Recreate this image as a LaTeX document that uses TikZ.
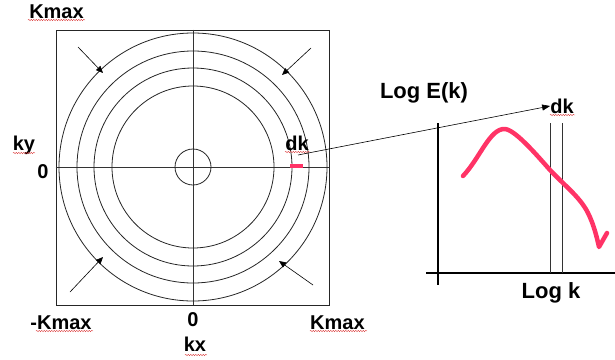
\documentclass[tikz,border=0pt]{standalone}
\usepackage{fontspec}
\setmainfont{Liberation Sans}
\usetikzlibrary{arrows.meta,decorations.pathmorphing}
\definecolor{pinkred}{RGB}{255,51,102}
\definecolor{squig}{RGB}{220,60,60}
\tikzset{
  lbl/.style={inner sep=0pt,font=\fontsize{20}{22}\selectfont\bfseries},
  biglbl/.style={inner sep=0pt,font=\fontsize{22}{24}\selectfont\bfseries},
  thin line/.style={draw=black!80,line width=0.7pt},
  ring/.style={draw=black!85,line width=0.8pt},
  inarrow/.style={draw=black,line width=0.6pt,-{Triangle[length=7pt,width=6pt]}},
  axis/.style={draw=black,line width=2.4pt},
  squiggle/.style={draw=squig,line width=0.4pt,decorate,decoration={snake,amplitude=0.7pt,segment length=2.5pt}},
  curve/.style={draw=pinkred,line width=4.5pt,line cap=round,line join=round}
}
\begin{document}
\begin{tikzpicture}[x=1pt,y=-1pt]
\useasboundingbox (0,0) rectangle (615,359);
% left panel
\node[draw=black!85,line width=0.8pt,minimum width=273pt,minimum height=275pt,inner sep=0pt] (sq) at (192.5,167.5) {};
\coordinate (c) at (193,167);
\draw[thin line] (sq.west |- c) -- (sq.east |- c);
\draw[thin line] (sq.north -| c) -- (sq.south -| c);
\foreach \r in {134,116,99,81,18} {\draw[ring] (c) circle (\r);}
% red dk mark
\node[fill=pinkred,minimum width=13pt,minimum height=4pt,inner sep=0pt] (mark) at (296.5,165.5) {};
% inward arrows
\coordinate (a1s) at (78,47);  \coordinate (a1e) at (103,73);
\coordinate (a2s) at (311,48); \coordinate (a2e) at (282,75);
\coordinate (a3s) at (70,292); \coordinate (a3e) at (103,257);
\coordinate (a4s) at (313,285);\coordinate (a4e) at (279,261);
\draw[inarrow] (a1s) -- (a1e);
\draw[inarrow] (a2s) -- (a2e);
\draw[inarrow] (a3s) -- (a3e);
\draw[inarrow] (a4s) -- (a4e);
% labels left
\node[lbl] (kmaxt) at (56.5,12) {Kmax};
\node[lbl] (ky) at (24,145) {ky};
\node[lbl] (zl) at (43,172) {0};
\node[lbl] (dkl) at (297,143) {dk};
\node[lbl] (mkmax) at (61,323) {-Kmax};
\node[lbl] (zb) at (193,320) {0};
\node[lbl] (kx) at (195,344) {kx};
\node[lbl,anchor=west] (kmaxb) at (310,323) {Kmax};
% right panel
\coordinate (vt) at (438,123); \coordinate (vb) at (438,285);
\coordinate (hl) at (426,273); \coordinate (hr) at (615,273);
\draw[axis] (vt) -- (vb);
\draw[axis] (hl) -- (hr);
\coordinate (l1t) at (550,123); \coordinate (l2t) at (562,123);
\draw[thin line] (l1t) -- (l1t |- hl);
\draw[thin line] (l2t) -- (l2t |- hl);
\node[biglbl] (loge) at (424,93) {Log E(k)};
\node[lbl] (dkr) at (562,106) {dk};
\node[biglbl] (logk) at (551,293) {Log k};
% connector
\coordinate (cs) at (298,155);
\draw[draw=black,line width=0.6pt,-{Triangle[length=8pt,width=6pt]}] (cs) -- (dkr.west);
% spectrum curve
\draw[curve] (463,176) .. controls (480,158) and (490,128) .. (505,129)
  .. controls (515,130) and (535,153) .. (550,170)
  .. controls (565,186) and (580,197) .. (588,213)
  .. controls (594,225) and (597,238) .. (599,247)
  -- (607,233);
% spell-check squiggles
\draw[squiggle] (28,20) -- (85,20);
\draw[squiggle] (13,153) -- (35,153);
\draw[squiggle] (285,152) -- (310,152);
\draw[squiggle] (36,331) -- (93,331);
\draw[squiggle] (185,355) -- (207,355);
\draw[squiggle] (310,331) -- (367,331);
\draw[squiggle] (550,115) -- (575,115);
\end{tikzpicture}
\end{document}
